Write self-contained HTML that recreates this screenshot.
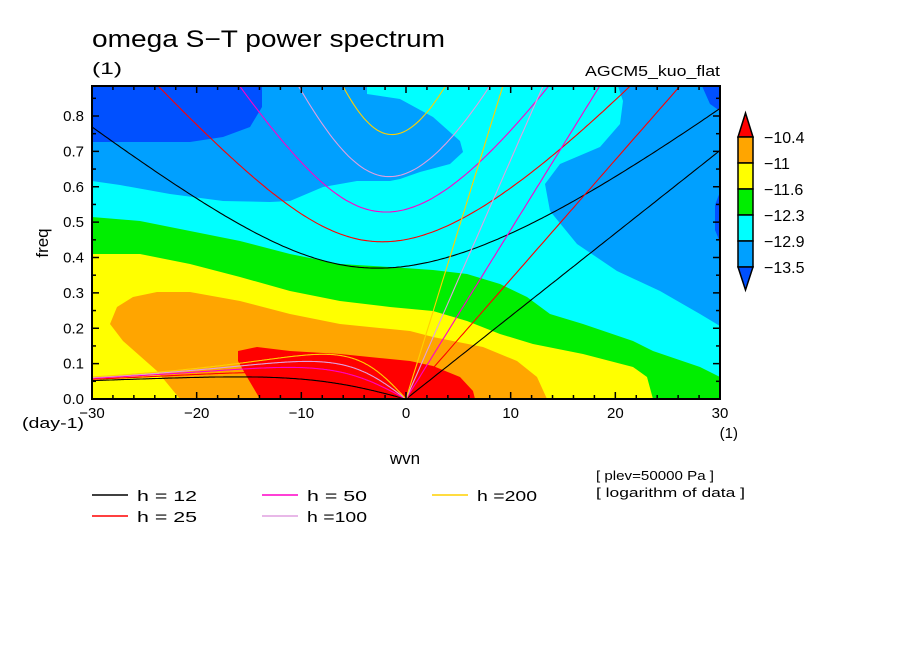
<!DOCTYPE html>
<html><head><meta charset="utf-8"><style>
html,body{margin:0;padding:0;background:#fff;}
svg{display:block;font-family:"Liberation Sans",sans-serif;}
</style></head><body>
<svg id="chart" width="904" height="654" viewBox="0 0 904 654">
<defs><clipPath id="pc"><rect x="92" y="86" width="628" height="313"/></clipPath></defs>
<text x="92" y="47" font-size="24" textLength="353" lengthAdjust="spacingAndGlyphs">omega S−T power spectrum</text>
<text x="92" y="74" font-size="17" textLength="30" lengthAdjust="spacingAndGlyphs">(1)</text>
<text x="585" y="76" font-size="15" textLength="135" lengthAdjust="spacingAndGlyphs">AGCM5_kuo_flat</text>
<g clip-path="url(#pc)">
<rect x="92" y="86" width="628" height="313" fill="#00ffff"/>
<path fill="#00a0ff" d="M92,86 L367,86 L367,94 L400,99 L433,117 L460,141 L463,152 L450,164 L420,172 L400,179 L390,181 L357,181 L323,187 L290,201 L270,202 L223,201 L170,194 L120,185 L92,181 Z"/>
<path fill="#0050ff" d="M92,86 L262,86 L262,107 L250,127 L223,137 L190,142 L92,142 Z"/>
<path fill="#00a0ff" d="M618,86 L623,101 L620,124 L600,147 L560,164 L545,184 L550,211 L577,244 L617,271 L660,291 L700,314 L720,326 L720,86 Z"/>
<path fill="#0050ff" d="M702,86 L710,104 L720,111 L720,86 Z M720,192 L715,205 L715,230 L720,242 Z"/>
<path fill="#00ee00" d="M92,217 L140,221 L190,231 L240,241 L290,254 L340,264 L390,267 L433,270 L467,274 L500,284 L527,297 L550,314 L583,324 L633,341 L653,351 L700,367 L720,377 L720,399 L92,399 Z"/>
<path fill="#ffff00" d="M92,254 L140,254 L190,264 L240,277 L290,291 L340,301 L390,307 L433,311 L467,321 L500,334 L533,344 L583,354 L633,367 L647,377 L653,399 L92,399 Z"/>
<path fill="#ffa500" d="M157,292 L190,292 L240,301 L290,314 L340,324 L390,329 L410,331 L433,337 L483,347 L517,361 L537,377 L547,399 L180,399 L157,371 L123,341 L110,324 L117,307 L133,297 Z"/>
<path fill="#ff0000" d="M238,351 L257,347 L290,351 L340,354 L390,359 L410,361 L433,366 L460,377 L473,391 L475,399 L260,399 L247,377 L238,361 Z"/>
<g id="curves"></g>
</g>
<rect x="92" y="86" width="628" height="313" fill="none" stroke="#000" stroke-width="2"/>
<g id="ticks"></g>
<g id="xlabels" font-size="15" text-anchor="middle"></g>
<g id="ylabels" font-size="15" text-anchor="end"></g>
<text x="22" y="428" font-size="15" textLength="62" lengthAdjust="spacingAndGlyphs">(day-1)</text>
<text x="738" y="438" font-size="15" text-anchor="end">(1)</text>
<text x="405" y="464" font-size="17" text-anchor="middle">wvn</text>
<text x="48" y="243" font-size="17" text-anchor="middle" transform="rotate(-90 48 243)">freq</text>
<g id="colorbar"></g>
<g id="legend" font-size="15"></g>
<text x="596" y="480" font-size="13" textLength="118" lengthAdjust="spacingAndGlyphs">[ plev=50000 Pa ]</text>
<text x="596" y="497" font-size="13" textLength="149" lengthAdjust="spacingAndGlyphs">[ logarithm of data ]</text>
</svg>
<script>
const depths = [12, 25, 50, 100, 200];
const depthColors = ["#000000", "#ff0000", "#ff00c8", "#e0a0e0", "#ffd000"];
const legendLabels = ["h = 12", "h = 25", "h = 50", "h =100", "h =200"];
const xTicks = [-30, -20, -10, 0, 10, 20, 30];
const yTicks = [0.0, 0.1, 0.2, 0.3, 0.4, 0.5, 0.6, 0.7, 0.8];
const levelLabels = ["-10.4", "-11", "-11.6", "-12.3", "-12.9", "-13.5"];
const levelColors = ["#ff0000", "#ffa500", "#ffff00", "#00ee00", "#00ffff", "#00a0ff", "#0050ff"];

const NS = "http://www.w3.org/2000/svg";
const X0 = 92, X1 = 720, Y0 = 399;
function xs(s){ return X0 + (s + 30) / 60 * (X1 - X0); }
function ys(f){ return Y0 - f * 353.75; }
function mk(tag, attrs, parent){ const e = document.createElementNS(NS, tag); for (const k in attrs) e.setAttribute(k, attrs[k]); parent.appendChild(e); return e; }

const A = 6.371e6, BETA = 2.289e-11, CPD = 86400 / (2 * Math.PI);
const curves = document.getElementById("curves");
depths.forEach((h, i) => {
  const c = Math.sqrt(9.81 * h);
  const kel = [], er = [], ig = [];
  for (let s = 0; s <= 30.001; s += 0.25) { const k = s / A; kel.push([s, k * c * CPD]); }
  for (let s = -30; s <= 0.001; s += 0.1) { const k = s / A; er.push([s, -BETA * k / (k * k + 3 * BETA / c) * CPD]); }
  for (let s = -30; s <= 30.001; s += 0.25) {
    const k = s / A; let w = Math.sqrt(c * c * k * k + 3 * BETA * c) * 1.5;
    for (let it = 0; it < 60; it++) { const f = w * w * w - (c * c * k * k + 3 * BETA * c) * w - BETA * k * c * c; const d = 3 * w * w - (c * c * k * k + 3 * BETA * c); w -= f / d; }
    ig.push([s, w * CPD]);
  }
  [["kelvin", kel], ["rossby", er], ["inertia-gravity", ig]].forEach(([nm, pts]) => {
    const p = mk("polyline", {points: pts.map(q => xs(q[0]).toFixed(1) + "," + ys(q[1]).toFixed(1)).join(" "), fill: "none", stroke: depthColors[i], "stroke-width": 1.1}, curves);
    
    
  });
});

const ticks = document.getElementById("ticks");
for (let s = -30; s <= 30; s += 2) {
  const len = (s % 10 === 0) ? 7 : 4;
  mk("line", {x1: xs(s), x2: xs(s), y1: Y0, y2: Y0 - len, stroke: "#000", "stroke-width": 1.5}, ticks);
  mk("line", {x1: xs(s), x2: xs(s), y1: 86, y2: 86 + len, stroke: "#000", "stroke-width": 1.5}, ticks);
}
for (let f = 0; f <= 0.88; f += 0.05) {
  const len = (Math.round(f * 100) % 10 === 0) ? 7 : 4;
  mk("line", {x1: X0, x2: X0 + len, y1: ys(f), y2: ys(f), stroke: "#000", "stroke-width": 1.5}, ticks);
  mk("line", {x1: X1, x2: X1 - len, y1: ys(f), y2: ys(f), stroke: "#000", "stroke-width": 1.5}, ticks);
}
const xl = document.getElementById("xlabels");
xTicks.forEach(v => {
  const t = mk("text", {x: xs(v), y: 418}, xl); t.textContent = v < 0 ? "−" + (-v) : String(v);
  
  
});
const yl = document.getElementById("ylabels");
yTicks.forEach(v => {
  const t = mk("text", {x: 84, y: ys(v) + 5}, yl); t.textContent = v.toFixed(1);
  
  
});

const cb = document.getElementById("colorbar");
const bx0 = 738, bx1 = 753, bTop = 137, bH = 26;
let p = mk("polygon", {points: `${bx0},${bTop} ${bx1},${bTop} ${(bx0+bx1)/2},113`, fill: levelColors[0], stroke: "#000", "stroke-width": 1.5}, cb);


for (let i = 1; i < levelColors.length - 1; i++) {
  const r = mk("rect", {x: bx0, y: bTop + (i - 1) * bH, width: bx1 - bx0, height: bH, fill: levelColors[i], stroke: "#000", "stroke-width": 1.5}, cb);
  
  
}
const bBot = bTop + (levelColors.length - 2) * bH;
p = mk("polygon", {points: `${bx0},${bBot} ${bx1},${bBot} ${(bx0+bx1)/2},${bBot + 23}`, fill: levelColors[levelColors.length - 1], stroke: "#000", "stroke-width": 1.5}, cb);


levelLabels.forEach((l, i) => {
  const t = mk("text", {x: 764, y: bTop + i * bH + 6, "font-size": 16}, cb); t.textContent = l.replace("-", "−");
  
  
});

const lg = document.getElementById("legend");
const lpos = [[92, 495], [92, 516], [262, 495], [262, 516], [432, 495]];
legendLabels.forEach((l, i) => {
  const [x, y] = lpos[i];
  const g = mk("g", {}, lg);
  
  
  mk("line", {x1: x, x2: x + 36, y1: y, y2: y, stroke: depthColors[i], "stroke-width": 1.5}, g);
  const t = mk("text", {x: x + 45, y: y + 6, textLength: 60, lengthAdjust: "spacingAndGlyphs"}, g); t.textContent = l;
});
</script>
</body></html>
